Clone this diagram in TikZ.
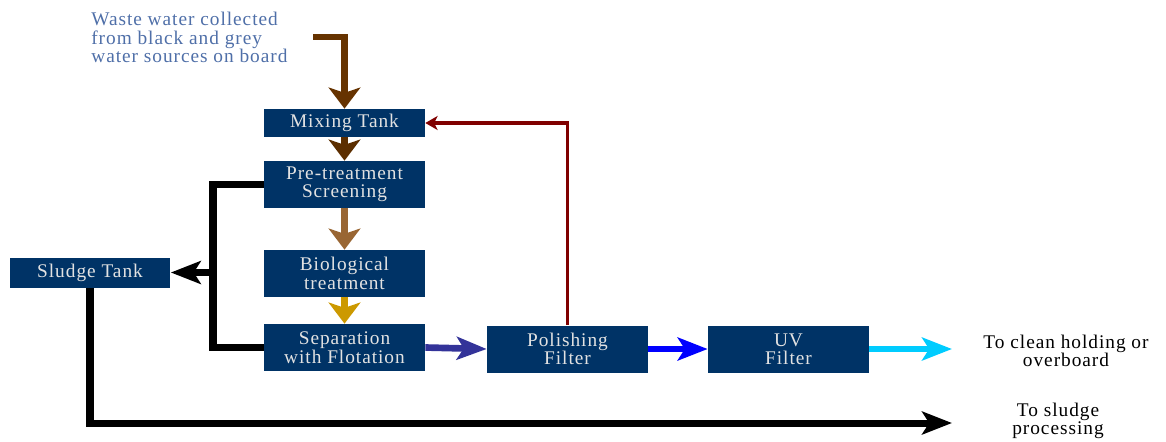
\documentclass[tikz,border=0pt]{standalone}
\usepackage{fontspec}
\setmainfont{Liberation Serif}[LetterSpace=5]
\usetikzlibrary{arrows.meta}
\definecolor{boxblue}{HTML}{003366}
\definecolor{boxtext}{HTML}{E2E2E2}
\definecolor{inlabel}{HTML}{4F6FA8}
\definecolor{inbrown}{HTML}{663300}
\definecolor{midbrown}{HTML}{996633}
\definecolor{bioyellow}{HTML}{CC9900}
\definecolor{sepblue}{HTML}{333399}
\definecolor{polblue}{HTML}{0000FF}
\definecolor{uvcyan}{HTML}{00CCFF}
\definecolor{recred}{HTML}{800000}
\tikzset{
 box/.style={fill=boxblue, text=boxtext, minimum width=3.22cm, minimum height=0.94cm,
  inner sep=0pt, align=center, font=\fontsize{11}{10.5}\selectfont},
 lbl/.style={align=center, font=\fontsize{11}{10.5}\selectfont},
 flow/.style={line width=3.5pt, -{Stealth[length=12pt,width=18pt,inset=3pt]}},
 hflow/.style={line width=3.8pt, -{Stealth[length=17pt,width=13pt,inset=4pt]}},
 sludge/.style={line width=4pt, black},
 recycle/.style={line width=1.8pt, recred, -{Stealth[length=7pt,width=8pt,inset=2pt]}}
}
\begin{document}
\begin{tikzpicture}[x=0.02cm, y=-0.02cm]
\useasboundingbox (0,0) rectangle (1166,441);
% boxes
\node[box, minimum height=0.56cm] (mix) at (344.5,123) {Mixing Tank};
\node[box] (pre) at (344.5,184.5) {Pre-treatment\\Screening};
\node[box] (bio) at (344.5,273.5) {Biological\\treatment};
\node[box] (sep) at (344.5,347.5) {Separation\\with Flotation};
\node[box, minimum height=0.6cm] (tank) at (90,272.5) {Sludge Tank};
\node[box] (pol) at (567.5,349) {Polishing\\Filter};
\node[box] (uv) at (788.5,349) {UV\\Filter};
% labels
\node[lbl, align=left, anchor=north west, inner sep=0pt, text=inlabel] (inlbl) at (91,12)
 {Waste water collected\\from black and grey\\water sources on board};
\node[lbl] (cleanlbl) at (1066,351) {To clean holding or\\overboard};
\node[lbl] (sludgelbl) at (1058,421) {To sludge\\processing};
\coordinate (src) at (313,37);
\coordinate (split) at (213,272.5);
\coordinate (cleanout) at (952,349);
\coordinate (sludgeout) at (952,423);
% main line
\draw[flow, inbrown] (src) -| (mix.north);
\draw[flow, inbrown!90!black] (mix.south) -- (pre.north);
\draw[flow, midbrown] (pre.south) -- (bio.north);
\draw[flow, bioyellow] (bio.south) -- (sep.north);
\draw[hflow, sepblue] (sep.east) -- (pol.west);
\draw[hflow, polblue] (pol.east) -- (uv.west);
\draw[hflow, uvcyan] (uv.east) -- (cleanout);
\draw[recycle] (pol.north) |- (mix.east);
% sludge
\draw[sludge] (pre.west) -| (split) |- (sep.west);
\draw[sludge, -{Stealth[length=17pt,width=13pt,inset=4pt]}] (split) -- (tank.east);
\draw[sludge, -{Stealth[length=17pt,width=13pt,inset=4pt]}] (tank.south) |- (sludgeout);
\end{tikzpicture}
\end{document}
